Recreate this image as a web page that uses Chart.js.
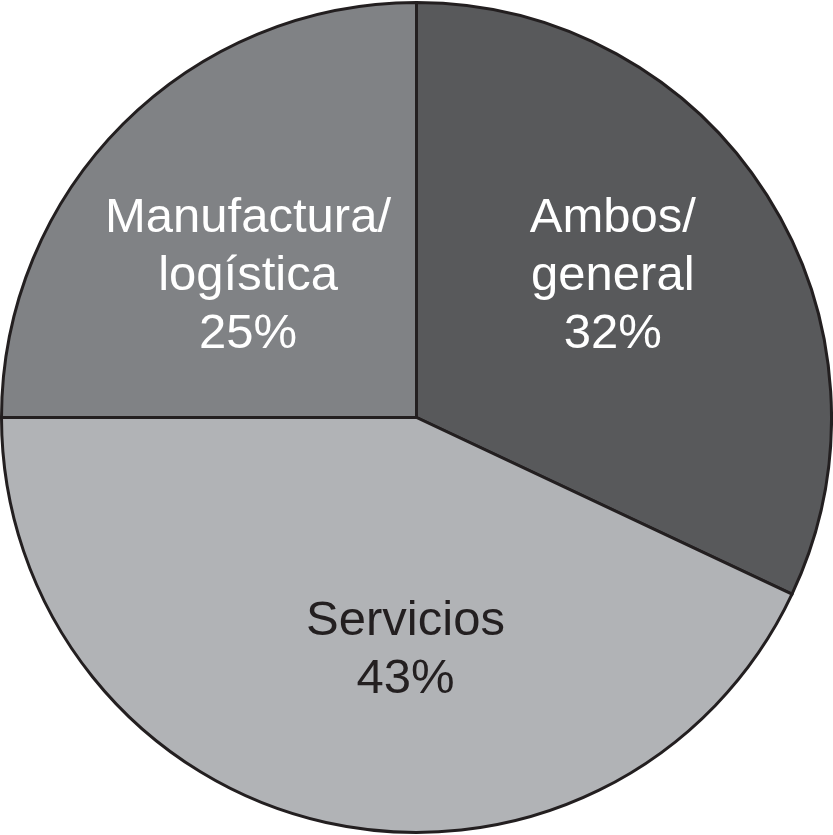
<!DOCTYPE html>
<html>
<head>
<meta charset="utf-8">
<script src="https://cdn.jsdelivr.net/npm/chart.js@4/dist/chart.umd.min.js"></script>
<style>
  html, body { margin: 0; padding: 0; background: #fff; }
  canvas { display: block; }
</style>
</head>
<body>
<canvas id="pie" width="833" height="835"></canvas>
<script>
  // Datos del gráfico (porcentajes, sentido horario desde las 12)
  var categories = ['Ambos/\ngeneral', 'Servicios', 'Manufactura/\nlogística'];
  var values = [32, 43, 25];
  var sliceColors = ['#58595b', '#b1b3b6', '#808285'];
  var textColors = ['#ffffff', '#231f20', '#ffffff'];

  // posición de cada etiqueta (línea base central), relativa al radio
  var labelOffsets = [[0.473, -0.307], [-0.0265, 0.593], [-0.406, -0.307]];

  var pieLabels = {
    id: 'pieLabels',
    afterDatasetsDraw: function (chart) {
      var ctx = chart.ctx;
      var arcs = chart.getDatasetMeta(0).data;
      ctx.save();
      ctx.font = '49px "Liberation Sans", Arial, sans-serif';
      ctx.textAlign = 'center';
      ctx.textBaseline = 'alphabetic';
      arcs.forEach(function (arc, i) {
        var r = arc.outerRadius;
        var cx = arc.x + labelOffsets[i][0] * r;
        var cy = arc.y + labelOffsets[i][1] * r;
        var lines = categories[i].split('\n').concat([values[i] + '%']);
        var lh = 58;
        ctx.fillStyle = textColors[i];
        lines.forEach(function (t, j) {
          ctx.fillText(t, cx, cy + (j - (lines.length - 1) / 2) * lh);
        });
      });
      ctx.restore();
    }
  };

  new Chart(document.getElementById('pie'), {
    type: 'pie',
    data: {
      labels: categories,
      datasets: [{
        data: values,
        backgroundColor: sliceColors,
        borderColor: '#231f20',
        borderWidth: 3,
        borderJoinStyle: 'miter'
      }]
    },
    options: {
      responsive: false,
      animation: false,
      devicePixelRatio: 1,
      layout: { padding: 0 },
      plugins: { legend: { display: false }, tooltip: { enabled: false } }
    },
    plugins: [pieLabels]
  });
</script>
</body>
</html>
